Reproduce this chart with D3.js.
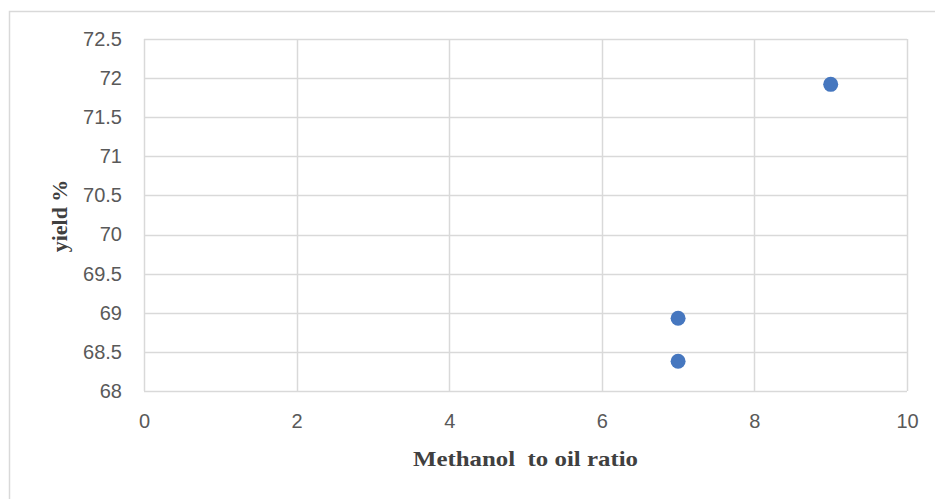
<!DOCTYPE html>
<html>
<head>
<meta charset="utf-8">
<script src="https://cdn.jsdelivr.net/npm/d3@7"></script>
<style>
  html, body { margin: 0; padding: 0; background: #fff; }
  svg { display: block; }
</style>
</head>
<body>
<svg id="chart" width="935" height="499"></svg>
<script>
// Yield versus methanol-to-oil molar ratio
const ratio = [7, 7, 9];
const yieldPct = [68.93, 68.38, 71.92];
const xTicks = [0, 2, 4, 6, 8, 10];
const yTicks = [68, 68.5, 69, 69.5, 70, 70.5, 71, 71.5, 72, 72.5];

const svg = d3.select("#chart");
const W = 935, H = 499;
const margin = { left: 144, right: 28, top: 39, bottom: 108 };

// outer chart frame
svg.append("path")
  .attr("d", `M9.5,${H + 5} L9.5,11.5 L${W + 5},11.5`)
  .attr("fill", "none")
  .attr("stroke", "#d9d9d9")
  .attr("stroke-width", 1.5);

const x = d3.scaleLinear().domain([0, 10]).range([margin.left, W - margin.right]);
const y = d3.scaleLinear().domain([68, 72.5]).range([H - margin.bottom, margin.top]);

// gridlines
const grid = svg.append("g");
grid.selectAll("line.h").data(yTicks).join("line")
  .attr("class", "h")
  .attr("x1", x(0)).attr("x2", x(10))
  .attr("y1", d => Math.round(y(d)) + 0.5).attr("y2", d => Math.round(y(d)) + 0.5)
  .attr("stroke", "#d9d9d9").attr("stroke-width", 1.5);
grid.selectAll("line.v").data(xTicks).join("line")
  .attr("class", "v")
  .attr("y1", y(68)).attr("y2", y(72.5))
  .attr("x1", d => Math.round(x(d)) + 0.5).attr("x2", d => Math.round(x(d)) + 0.5)
  .attr("stroke", "#d9d9d9").attr("stroke-width", 1.5);

// axes (labels only, lines drawn by the grid)
const tickFont = "'Liberation Sans', Arial, sans-serif";
const xAxis = svg.append("g")
  .attr("transform", `translate(0,${y(68)})`)
  .call(d3.axisBottom(x).tickValues(xTicks).tickSize(0).tickPadding(23).tickFormat(d3.format("d")));
const yAxis = svg.append("g")
  .attr("transform", `translate(${x(0)},0)`)
  .call(d3.axisLeft(y).tickValues(yTicks).tickSize(0).tickPadding(22).tickFormat(d => String(d)));
[xAxis, yAxis].forEach(a => {
  a.select(".domain").remove();
  a.selectAll("text")
    .attr("fill", "#595959")
    .style("font-family", tickFont)
    .style("font-size", "20px");
});

// axis titles
svg.append("text")
  .attr("x", 413).attr("y", 466)
  .attr("textLength", 225)
  .attr("lengthAdjust", "spacingAndGlyphs")
  .attr("fill", "#404040")
  .style("font-family", "'Liberation Serif', 'Times New Roman', serif")
  .style("font-weight", "bold")
  .style("font-size", "22px")
  .style("white-space", "pre")
  .text("Methanol  to oil ratio");

svg.append("text")
  .attr("transform", "translate(67,216) rotate(-90)")
  .attr("text-anchor", "middle")
  .attr("fill", "#404040")
  .style("font-family", "'Liberation Serif', 'Times New Roman', serif")
  .style("font-weight", "bold")
  .style("font-size", "22px")
  .text("yield %");

// data points
svg.append("g").selectAll("circle")
  .data(ratio.map((r, i) => ({ r, v: yieldPct[i] })))
  .join("circle")
  .attr("cx", d => x(d.r))
  .attr("cy", d => y(d.v))
  .attr("r", 7.5)
  .attr("fill", "#4677bf");
</script>
</body>
</html>
